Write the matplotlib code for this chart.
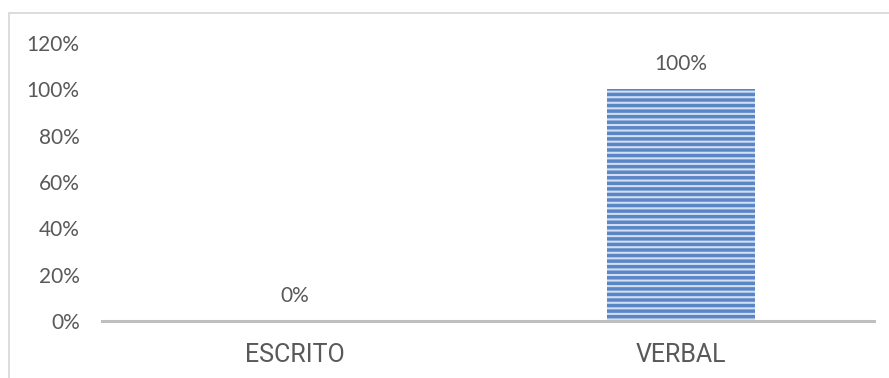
import matplotlib
matplotlib.use('Agg')
import matplotlib.pyplot as plt
from matplotlib.patches import Rectangle
from matplotlib.ticker import FuncFormatter

categories = ['ESCRITO', 'VERBAL']
shares = [0.0, 1.0]
y_ticks = [0, 0.2, 0.4, 0.6, 0.8, 1.0, 1.2]

text_grey = '#595959'
plt.rcParams['hatch.linewidth'] = 1.5

fig = plt.figure(figsize=(8.89, 3.78), dpi=100)
ax = fig.add_axes([0.1147, 0.1508, 0.8683, 0.7354])

# light frame round the whole chart area, open to the right and below
fig.add_artist(Rectangle((0.0101, -0.1), 1.2, 1.1 - 0.0344, transform=fig.transFigure,
                         fill=False, edgecolor='#d9d9d9', linewidth=1.3))

x = range(len(categories))
bars = ax.bar(x, shares, width=0.385, color='#5a86c6', edgecolor='#d2def1',
              linewidth=0, hatch='---')

for b, v in zip(bars, shares):
    ax.annotate('{:.0f}%'.format(v * 100), (b.get_x() + b.get_width() / 2, v),
                xytext=(0, 11), textcoords='offset points', ha='center', va='bottom',
                fontsize=15, color=text_grey, family=['Lato', 'DejaVu Sans'])

ax.set_xlim(-0.5, 1.5)
ax.set_ylim(0, 1.2)
ax.set_yticks(y_ticks)
ax.yaxis.set_major_formatter(FuncFormatter(lambda v, p: '{:.0f}%'.format(v * 100)))
ax.set_xticks(list(x))
ax.set_xticklabels(categories)

for s in ['top', 'right', 'left']:
    ax.spines[s].set_visible(False)
ax.spines['bottom'].set_color('#bfbfbf')
ax.spines['bottom'].set_linewidth(2.2)

ax.tick_params(axis='y', length=0, pad=16, labelsize=15, labelcolor=text_grey)
ax.tick_params(axis='x', length=0, pad=16, labelsize=18, labelcolor=text_grey)
for t in ax.get_yticklabels():
    t.set_family(['Lato', 'DejaVu Sans'])
for t in ax.get_xticklabels():
    t.set_family(['Roboto', 'DejaVu Sans'])

fig.savefig('out.png', dpi=100)
